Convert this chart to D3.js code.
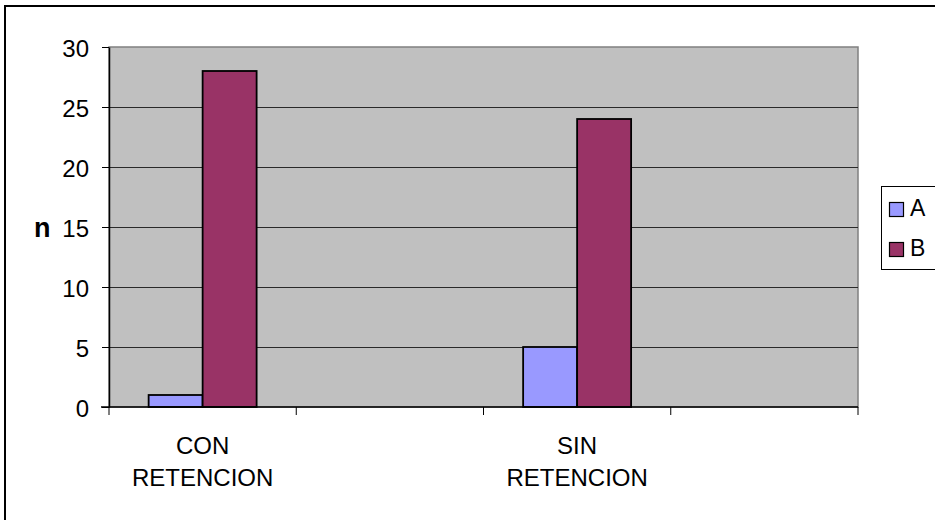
<!DOCTYPE html>
<html>
<head>
<meta charset="utf-8">
<script src="https://cdn.jsdelivr.net/npm/d3@7/dist/d3.min.js"></script>
<style>
  html, body { margin: 0; padding: 0; background: #fff; }
  svg { display: block; font-family: "Liberation Sans", Arial, sans-serif; }
</style>
</head>
<body>
<svg id="chart" width="935" height="520"></svg>
<script>
// Category slots (two of them are empty, as in the original workbook)
const categories = ["CON RETENCION", "", "SIN RETENCION", ""];
const seriesNames = ["A", "B"];
const valuesA = [1, null, 5, null];
const valuesB = [28, null, 24, null];
const yTicks = [0, 5, 10, 15, 20, 25, 30];
const colors = { A: "#9999FF", B: "#993366" };

const svg = d3.select("#chart");
const plot = { left: 109, right: 858, top: 47, bottom: 407 };

// Outer chart frame (continues past the right and bottom edges)
svg.append("rect")
  .attr("x", 5).attr("y", 6)
  .attr("width", 960).attr("height", 540)
  .attr("fill", "#fff").attr("stroke", "#000").attr("stroke-width", 2);

const x = d3.scaleBand()
  .domain(d3.range(categories.length))
  .range([plot.left, plot.right])
  .padding(0);

const x1 = d3.scaleBand()
  .domain(seriesNames)
  .range([0, x.bandwidth()])
  .paddingInner(0)
  .paddingOuter(0.734);

const y = d3.scaleLinear()
  .domain([0, 30])
  .range([plot.bottom, plot.top]);

// Plot area background
svg.append("rect")
  .attr("x", plot.left).attr("y", plot.top)
  .attr("width", plot.right - plot.left).attr("height", plot.bottom - plot.top)
  .attr("fill", "#C0C0C0").attr("stroke", "#808080").attr("stroke-width", 1.5);

// Horizontal gridlines
svg.append("g")
  .selectAll("line")
  .data(yTicks.filter(t => t > 0 && t < 30))
  .join("line")
  .attr("x1", plot.left).attr("x2", plot.right)
  .attr("y1", d => Math.round(y(d)) + 0.5).attr("y2", d => Math.round(y(d)) + 0.5)
  .attr("stroke", "#2a2a2a").attr("stroke-width", 1);

// Bars
const rows = categories.map((c, i) => ({ i, A: valuesA[i], B: valuesB[i] }));
const groups = svg.append("g")
  .selectAll("g")
  .data(rows)
  .join("g")
  .attr("transform", d => `translate(${x(d.i)},0)`);

groups.selectAll("rect")
  .data(d => seriesNames.map(s => ({ s, v: d[s] })).filter(e => e.v != null))
  .join("rect")
  .attr("x", d => x1(d.s))
  .attr("y", d => y(d.v))
  .attr("width", x1.bandwidth())
  .attr("height", d => y(0) - y(d.v))
  .attr("fill", d => colors[d.s])
  .attr("stroke", "#000").attr("stroke-width", 1.8);

// Y axis
const yAxis = svg.append("g")
  .attr("transform", `translate(${plot.left},0)`)
  .call(d3.axisLeft(y).tickValues(yTicks).tickSize(7).tickPadding(13).tickSizeOuter(0));
yAxis.select(".domain").attr("stroke", "#000").attr("stroke-width", 1.5);
yAxis.selectAll(".tick line").attr("stroke", "#000");
yAxis.selectAll(".tick text")
  .attr("font-size", 24).attr("font-family", "Liberation Sans, Arial, sans-serif")
  .attr("fill", "#000").attr("dy", "0.4em");

// X axis: ticks sit on the category boundaries
const xAxis = svg.append("g")
  .attr("transform", `translate(0,${plot.bottom})`);
xAxis.append("line")
  .attr("x1", plot.left - 8).attr("x2", plot.right)
  .attr("y1", 0).attr("y2", 0)
  .attr("stroke", "#000").attr("stroke-width", 1.5);
const boundaries = x.domain().map(i => x(i)).concat([x.range()[1]]);
xAxis.selectAll("line.tk")
  .data(boundaries)
  .join("line")
  .attr("class", "tk")
  .attr("x1", d => d).attr("x2", d => d)
  .attr("y1", 0).attr("y2", 8)
  .attr("stroke", "#000").attr("stroke-width", 1);

// Category labels, wrapped over two lines
xAxis.selectAll("text.cat")
  .data(categories.map((c, i) => ({ c, i })).filter(d => d.c))
  .join("text")
  .attr("class", "cat")
  .attr("text-anchor", "middle")
  .attr("font-size", 24)
  .attr("fill", "#000")
  .each(function(d) {
    const words = d.c.split(" ");
    const t = d3.select(this);
    words.forEach((w, k) => {
      t.append("tspan")
        .attr("x", x(d.i) + x.bandwidth() / 2)
        .attr("y", 47 + k * 32)
        .text(w);
    });
  });

// Y axis title
svg.append("text")
  .attr("x", 34).attr("y", 237)
  .attr("font-size", 27).attr("font-weight", "bold")
  .attr("fill", "#000")
  .text("n");

// Legend
const legend = svg.append("g");
legend.append("rect")
  .attr("x", 881.5).attr("y", 186.5)
  .attr("width", 80).attr("height", 83)
  .attr("fill", "#fff").attr("stroke", "#000").attr("stroke-width", 1);
seriesNames.forEach((s, k) => {
  legend.append("rect")
    .attr("x", 889.5).attr("y", 202.5 + k * 40)
    .attr("width", 14).attr("height", 14)
    .attr("fill", colors[s]).attr("stroke", "#000").attr("stroke-width", 1.2);
  legend.append("text")
    .attr("x", 910).attr("y", 216 + k * 40)
    .attr("font-size", 23).attr("fill", "#000")
    .text(s);
});
</script>
</body>
</html>
